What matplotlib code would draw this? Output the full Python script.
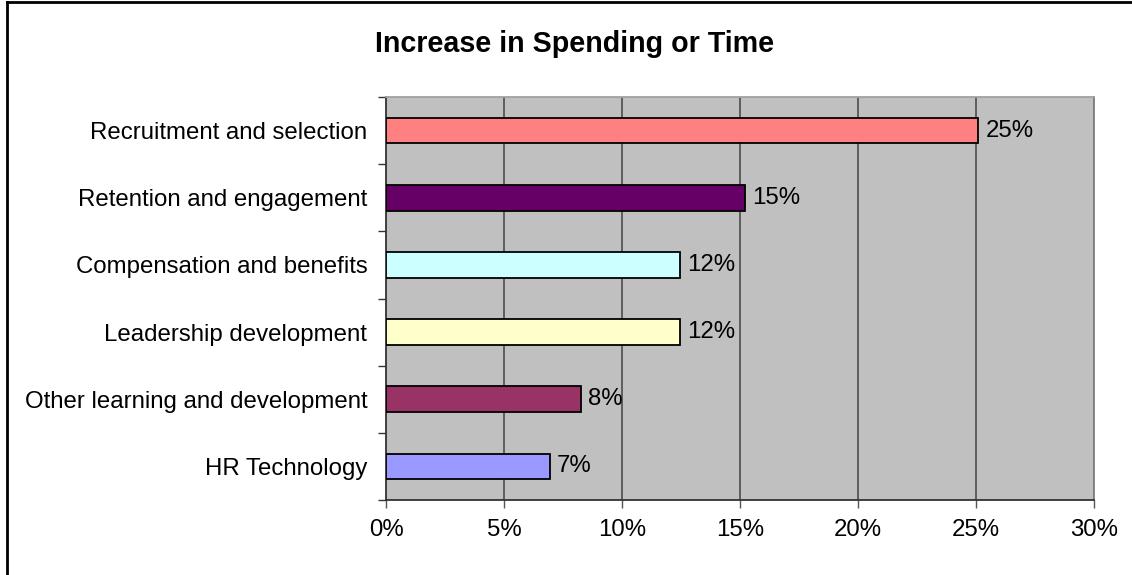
import matplotlib.pyplot as plt
from matplotlib.lines import Line2D

plt.rcParams['font.family'] = ['Liberation Sans', 'DejaVu Sans']

# Data
categories = ["Recruitment and selection", "Retention and engagement",
              "Compensation and benefits", "Leadership development",
              "Other learning and development", "HR Technology"]
values = [25.1, 15.2, 12.45, 12.45, 8.25, 6.95]
colors = ["#FF8080", "#660066", "#CCFFFF", "#FFFFCC", "#993366", "#9999FF"]
xticks = [0, 5, 10, 15, 20, 25, 30]

fs = 17.3

fig = plt.figure(figsize=(11.32, 5.75), dpi=100)
ax = fig.add_axes([386 / 1132, 75 / 575, 708 / 1132, 403 / 575])
ax.set_facecolor("#C0C0C0")

ypos = list(range(len(categories)))
ax.barh(ypos, values, height=0.38, color=colors, edgecolor="black",
        linewidth=1.3, zorder=3)

for y, v in zip(ypos, values):
    ax.text(v + 0.3, y, f"{v:.0f}%", va="center", ha="left", fontsize=fs, zorder=4)

ax.set_xlim(0, 30)
ax.set_ylim(len(categories) - 0.5, -0.5)

ax.set_xticks(xticks)
ax.set_xticklabels([f"{t}%" for t in xticks], fontsize=fs)
ax.xaxis.set_tick_params(length=6, width=1, color="#555555", pad=8)
for x in xticks[1:]:
    ax.axvline(x, color="#555555", linewidth=1.3, zorder=1)

# category labels centered on bars, ticks at category boundaries
ax.set_yticks([y + 0.5 for y in [-1] + ypos])
ax.set_yticklabels([])
ax.set_yticks(ypos, minor=True)
ax.set_yticklabels(categories, minor=True, fontsize=fs)
ax.yaxis.set_tick_params(which="major", length=6, width=1, color="#333333")
ax.yaxis.set_tick_params(which="minor", length=0, pad=13.5)

for side in ["left", "bottom"]:
    ax.spines[side].set_color("#333333")
    ax.spines[side].set_linewidth(1.3)
ax.spines["top"].set_color("#A0A0A0")
ax.spines["right"].set_color("#808080")
ax.spines["top"].set_linewidth(1.3)
ax.spines["right"].set_linewidth(1.3)

fig.text(575 / 1132, 1 - 44 / 575, "Increase in Spending or Time",
         ha="center", va="center", fontsize=20.6, fontweight="bold")

# chart border (left and top edges)
fig.add_artist(Line2D([7 / 1132, 7 / 1132], [0, 1 - 2 / 575], color="black",
                      linewidth=2, transform=fig.transFigure))
fig.add_artist(Line2D([7 / 1132, 1], [1 - 2 / 575, 1 - 2 / 575], color="black",
                      linewidth=2, transform=fig.transFigure))

fig.savefig("out.png", dpi=100)
